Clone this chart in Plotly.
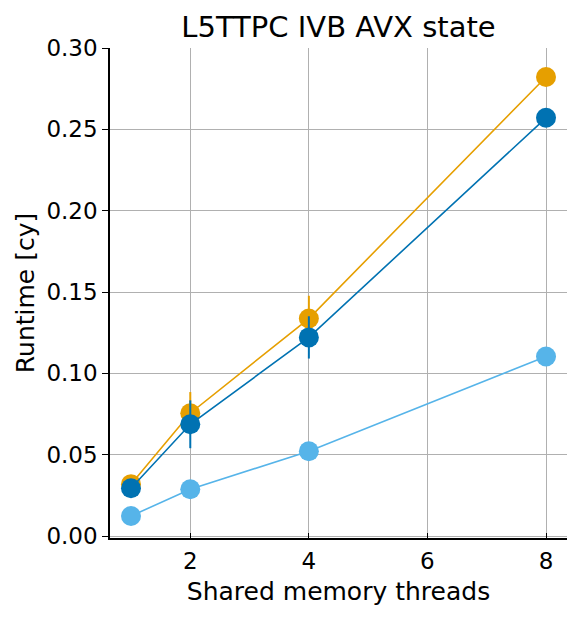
import plotly.graph_objects as go

threads = [1, 2, 4, 8]

series_names = ["Orange", "Dark blue", "Light blue"]
runtime_orange = [0.0319, 0.0755, 0.1337, 0.2822]
err_orange = [0.001, 0.013, 0.014, 0.001]
runtime_darkblue = [0.0294, 0.0687, 0.1221, 0.2571]
err_darkblue = [0.001, 0.0147, 0.013, 0.001]
runtime_lightblue = [0.0123, 0.0288, 0.0521, 0.1104]
err_lightblue = [0.0005, 0.0008, 0.001, 0.001]

colors = ["#E69F00", "#0072B2", "#56B4E9"]

x_ticks = [2, 4, 6, 8]
y_ticks = [0.0, 0.05, 0.10, 0.15, 0.20, 0.25, 0.30]
y_ticklabels = ["0.00", "0.05", "0.10", "0.15", "0.20", "0.25", "0.30"]

FONT = "DejaVu Sans"

fig = go.Figure()
for name, ys, es, c in [
    (series_names[0], runtime_orange, err_orange, colors[0]),
    (series_names[1], runtime_darkblue, err_darkblue, colors[1]),
    (series_names[2], runtime_lightblue, err_lightblue, colors[2]),
]:
    fig.add_trace(go.Scatter(
        x=threads, y=ys, name=name, mode="lines+markers",
        line=dict(color=c, width=1.6),
        marker=dict(color=c, size=20, line=dict(width=0)),
        error_y=dict(type="data", array=es, visible=True, color=c, thickness=2, width=0),
        showlegend=False,
    ))

fig.update_layout(
    width=582, height=619,
    margin=dict(l=110, r=15, t=48, b=81),
    paper_bgcolor="white", plot_bgcolor="white",
    font=dict(family=FONT, size=23, color="black"),
    title=dict(text="L5TTPC IVB AVX state", x=0.5, xref="paper", xanchor="center",
               y=1 - 27 / 619, yref="container", yanchor="middle",
               font=dict(family=FONT, size=29, color="black")),
)
fig.update_xaxes(
    range=[0.646, 8.354], tickvals=x_ticks, ticktext=[str(t) for t in x_ticks],
    showgrid=True, gridcolor="#b0b0b0", gridwidth=1.4,
    showline=True, linecolor="black", linewidth=1.5,
    ticks="inside", ticklen=5, tickwidth=1.3, tickcolor="black",
    zeroline=False, ticklabelstandoff=2,
    title=dict(text="Shared memory threads", font=dict(family=FONT, size=25), standoff=9),
    tickfont=dict(family=FONT, size=23),
)
fig.update_yaxes(
    range=[-0.0012, 0.30], tickvals=y_ticks, ticktext=y_ticklabels,
    showgrid=True, gridcolor="#b0b0b0", gridwidth=1.4,
    showline=True, linecolor="black", linewidth=1.5,
    ticks="outside", ticklen=6, tickwidth=1.3, tickcolor="black",
    zeroline=False,
    title=dict(text="Runtime [cy]", font=dict(family=FONT, size=25), standoff=5),
    tickfont=dict(family=FONT, size=23),
)

fig.write_html("out.html")
